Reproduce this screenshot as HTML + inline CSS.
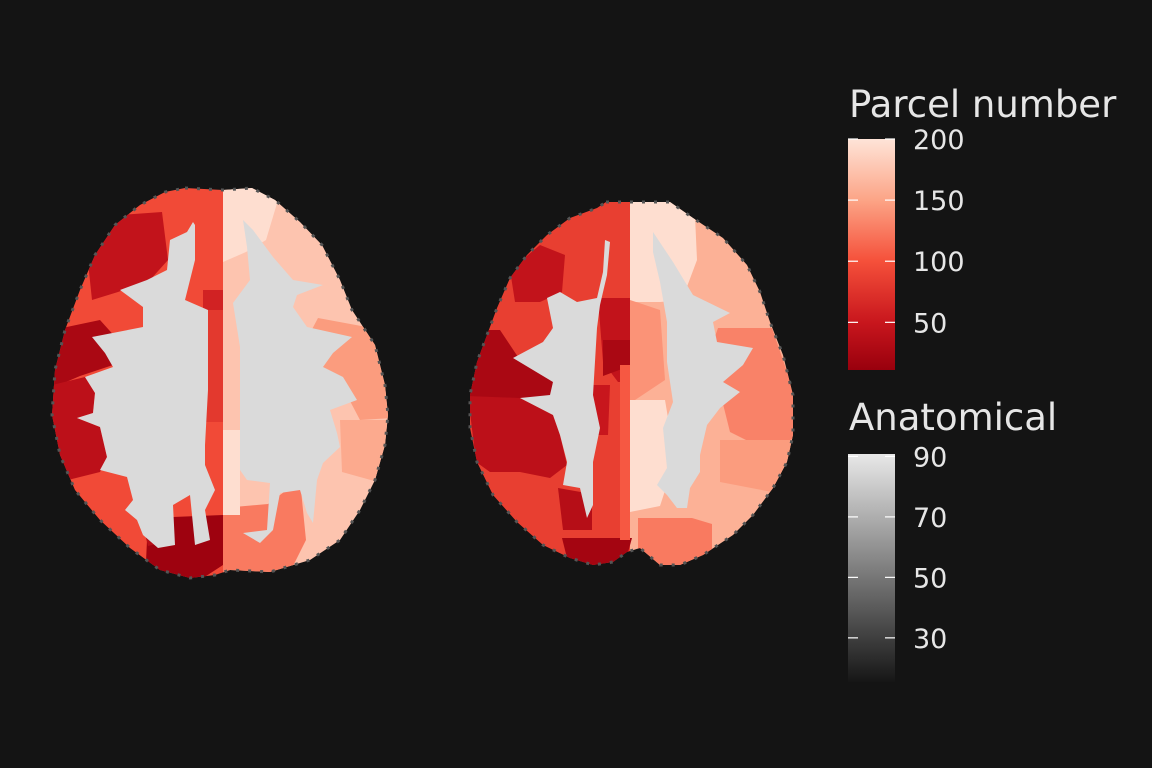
<!DOCTYPE html>
<html><head><meta charset="utf-8">
<style>
html,body{margin:0;padding:0;background:#141414;}
svg{display:block;font-family:"DejaVu Sans","Liberation Sans",sans-serif;}
</style></head>
<body>
<svg id="chart" width="1152" height="768" viewBox="0 0 1152 768">
<rect x="0" y="0" width="1152" height="768" fill="#141414"/>
<defs>
<linearGradient id="redGrad" x1="0" y1="1" x2="0" y2="0">
<stop offset="0" stop-color="#99000d"/><stop offset="0.206" stop-color="#c8161d"/>
<stop offset="0.471" stop-color="#f5503a"/><stop offset="0.735" stop-color="#fca486"/>
<stop offset="1" stop-color="#fee4d8"/></linearGradient>
<linearGradient id="grayGrad" x1="0" y1="1" x2="0" y2="0">
<stop offset="0" stop-color="#161616"/><stop offset="1" stop-color="#e8e8e8"/></linearGradient>
</defs>
<g id="brains"></g>
<g id="legend"></g>
</svg>
<script>
// Parcel value scale data
const parcelTicks = [50, 100, 150, 200];
const parcelDomain = [11, 200];
const anatTicks = [30, 50, 70, 90];
const anatDomain = [15.4, 90.8];

// parcel values per region (brain 1 then brain 2)
const leftBrainHemiValues = [95, 175];
const leftBrainParcelValues = [45, 60, 80, 25, 40, 15, 35, 195, 145, 155, 125, 195];
const rightBrainHemiValues = [85, 160];
const rightBrainParcelValues = [45, 45, 25, 25, 40, 50, 20, 35, 105, 195, 130, 140, 195, 125, 145];

const NS = "http://www.w3.org/2000/svg";
const stops = [[11,[0x99,0x00,0x0d]],[50,[0xc8,0x16,0x1d]],[100,[0xf5,0x50,0x3a]],[150,[0xfc,0xa4,0x86]],[200,[0xfe,0xe4,0xd8]]];
function colorOf(v){
  for(let i=0;i<stops.length-1;i++){
    const a=stops[i],b=stops[i+1];
    if(v<=b[0]||i===stops.length-2){
      let t=(v-a[0])/(b[0]-a[0]);t=Math.max(0,Math.min(1,t));
      const c=a[1].map((x,k)=>Math.round(x+(b[1][k]-x)*t));
      return "rgb("+c.join(",")+")";
    }
  }
}
function mk(tag,attrs,parent){const e=document.createElementNS(NS,tag);for(const k in attrs)e.setAttribute(k,attrs[k]);parent.appendChild(e);return e;}

// geometry
const brain1Outline="185,188 223,190 252,188 275,200 300,222 322,245 340,280 352,310 375,345 385,385 388,415 385,445 375,480 360,510 340,540 310,560 270,572 230,570 215,575 190,578 160,570 130,548 100,520 75,490 60,455 52,415 55,370 65,330 80,290 95,255 115,225 140,205 165,192";
const brain1Hemis=["0,0 223,0 223,700 0,700","223,0 500,0 500,700 223,700"];
const brain1Parcels=[
"120,215 162,212 168,260 150,280 118,292 92,300 88,262 100,235",
"203,290 223,290 223,312 203,312",
"203,310 223,310 223,422 203,422",
"62,328 100,320 118,340 113,365 80,376 52,388 56,350",
"48,386 85,377 95,393 93,413 77,418 100,427 107,457 100,472 68,480 56,450 48,415",
"148,518 223,515 223,565 200,580 170,582 146,562",
"136,498 168,494 172,540 148,546",
"223,185 256,185 278,200 266,240 246,252 223,262",
"318,318 372,328 392,385 392,418 360,420 340,382 300,352",
"340,420 392,420 378,482 342,472",
"223,508 268,504 300,480 306,540 292,568 258,575 223,575",
"223,430 240,430 240,515 223,515"];
const brain1WM=["193,222 187,232 170,240 167,270 147,280 120,290 143,307 143,327 92,337 105,353 113,367 85,377 95,393 93,413 77,418 100,427 107,457 100,470 127,477 133,500 125,510 137,520 143,535 158,548 175,545 173,505 190,495 195,545 210,540 205,510 215,490 205,465 205,445 208,390 208,310 185,300 195,260 195,225",
"243,220 253,230 273,257 293,280 323,285 297,295 293,307 307,327 352,337 333,353 323,367 343,377 357,400 330,410 337,433 340,447 323,463 317,480 313,523 307,513 300,490 280,493 273,530 260,543 243,533 267,530 270,483 247,480 240,470 240,433 240,347 233,303 250,280 247,247"];

const brain2Outline="606,202 640,202 670,202 693,218 723,238 747,265 760,292 770,322 783,355 793,395 793,435 787,462 773,488 753,515 733,535 703,555 680,565 660,565 640,548 627,552 613,562 593,565 570,558 543,545 517,522 493,495 477,462 470,428 470,395 477,362 487,335 497,308 510,278 527,255 547,235 570,218 597,208";
const brain2Hemis=["400,0 630,0 630,700 400,700","630,0 900,0 900,700 630,700"];
const brain2Parcels=[
"510,270 540,245 565,255 562,292 540,302 515,302",
"598,298 630,298 630,382 618,382 603,362",
"603,340 630,340 630,366 603,376",
"472,330 500,330 520,360 553,382 550,400 520,398 490,402 468,396",
"468,396 520,398 553,415 560,435 567,465 550,478 520,472 490,472 476,462",
"588,385 610,385 608,435 588,435",
"562,538 632,538 627,556 593,570 568,562",
"558,488 592,494 592,530 563,530",
"620,365 630,365 630,540 620,540",
"630,198 672,198 695,216 697,260 682,300 660,302 630,302",
"718,328 772,328 795,395 797,436 770,452 730,432 720,392 700,380",
"630,300 660,310 665,380 635,400 630,400",
"630,400 665,400 675,460 660,506 630,512",
"638,518 692,518 712,524 712,558 680,570 658,568 638,550",
"720,440 797,440 772,492 720,482"];
const brain2WM=["605,240 603,272 597,298 577,302 560,292 547,298 553,328 543,342 513,358 553,382 550,395 520,398 553,415 560,435 567,462 563,485 580,488 587,518 593,505 593,462 600,428 593,395 597,328 600,305 607,275 610,242",
"653,232 673,262 693,295 730,313 713,322 717,342 753,348 743,365 723,382 740,392 720,408 707,425 700,455 700,472 690,488 687,508 677,508 667,495 657,485 667,468 663,428 673,402 667,362 667,322 660,282 653,252"];

const brainsG=document.getElementById("brains");
const defs=document.querySelector("defs");
function drawBrain(id,outline,hemis,hemiVals,parcels,vals,wm){
  const cp=mk("clipPath",{id:"clip"+id},defs);
  mk("polygon",{points:outline},cp);
  const g=mk("g",{"clip-path":"url(#clip"+id+")"},brainsG);
  
  
  hemis.forEach((h,i)=>{
    const e=mk("polygon",{points:h,fill:colorOf(hemiVals[i])},g);
    
    
  });
  parcels.forEach((p,i)=>{
    const e=mk("polygon",{points:p,fill:colorOf(vals[i])},g);
    
    
  });
  wm.forEach(w=>{
    const e=mk("polygon",{points:w,fill:"#dadada"},g);
    
    
  });
  const o=mk("polygon",{points:outline,fill:"none",stroke:"#555",
    "stroke-width":"3","stroke-dasharray":"3 9"},brainsG);
  
  
}
drawBrain(1,brain1Outline,brain1Hemis,leftBrainHemiValues,brain1Parcels,leftBrainParcelValues,brain1WM);
drawBrain(2,brain2Outline,brain2Hemis,rightBrainHemiValues,brain2Parcels,rightBrainParcelValues,brain2WM);

// legends
const lg=document.getElementById("legend");
function legend(title,titleY,top,bottom,grad,domain,ticks,name){
  const t=mk("text",{x:849,y:titleY,fill:"#e6e6e6","font-size":"37"},lg);
  t.textContent=title;
  
  
  const r=mk("rect",{x:848,y:top,width:47,height:bottom-top,fill:"url(#"+grad+")"},lg);
  
  
  const sc=v=>bottom-(v-domain[0])/(domain[1]-domain[0])*(bottom-top);
  ticks.forEach(v=>{
    const y=sc(v);
    mk("line",{x1:848,x2:858,y1:y,y2:y,stroke:"#fff","stroke-width":1.2},lg);
    mk("line",{x1:885,x2:895,y1:y,y2:y,stroke:"#fff","stroke-width":1.2},lg);
    const tx=mk("text",{x:913,y:y+10,fill:"#e6e6e6","font-size":"27"},lg);
    tx.textContent=v;
    
    
  });
}
legend("Parcel number",117,139,370,"redGrad",parcelDomain,parcelTicks,"parcel");
legend("Anatomical",430,454,682,"grayGrad",anatDomain,anatTicks,"anatomical");
</script>
</body></html>
